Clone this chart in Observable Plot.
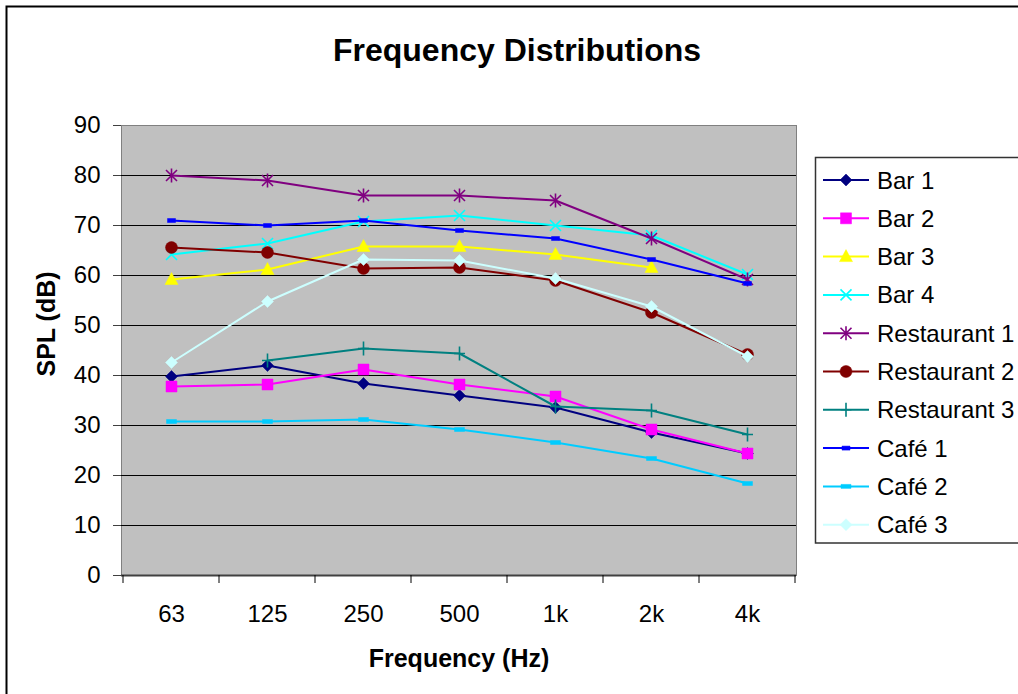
<!DOCTYPE html>
<html>
<head>
<meta charset="utf-8">
<script src="https://cdn.jsdelivr.net/npm/d3@7"></script>
<script src="https://cdn.jsdelivr.net/npm/@observablehq/plot@0.6"></script>
<style>
  html, body { margin: 0; padding: 0; background: #fff; overflow: hidden; }
  #chart { position: relative; width: 1018px; height: 694px; }
  svg { font-family: "Liberation Sans", Arial, sans-serif; }
</style>
</head>
<body>
<div id="chart"></div>
<script>
// ---- data ----
const frequencies = ["63", "125", "250", "500", "1k", "2k", "4k"];
const yTicks = [0, 10, 20, 30, 40, 50, 60, 70, 80, 90];
const seriesNames = ["Bar 1", "Bar 2", "Bar 3", "Bar 4", "Restaurant 1", "Restaurant 2", "Restaurant 3", "Café 1", "Café 2", "Café 3"];
const bar1 = [39.8, 42.0, 38.4, 36.0, 33.6, 28.6, 24.4];
const bar2 = [37.8, 38.2, 41.2, 38.2, 35.8, 29.2, 24.4];
const bar3 = [59.2, 61.2, 65.8, 65.8, 64.2, 61.6, null];
const bar4 = [64.2, 66.4, 70.8, 72.0, 70.0, 68.0, 60.2];
const restaurant1 = [80.0, 79.0, 76.0, 76.0, 75.0, 67.4, 59.2];
const restaurant2 = [65.6, 64.6, 61.4, 61.6, 59.0, 52.6, 44.2];
const restaurant3 = [null, 43.0, 45.4, 44.4, 33.8, 33.0, 28.2];
const cafe1 = [71.0, 70.0, 71.0, 69.0, 67.4, 63.2, 58.4];
const cafe2 = [30.8, 30.8, 31.2, 29.2, 26.6, 23.4, 18.4];
const cafe3 = [42.6, 54.8, 63.2, 63.0, 59.4, 53.8, 43.8];
const seriesValues = [bar1, bar2, bar3, bar4, restaurant1, restaurant2, restaurant3, cafe1, cafe2, cafe3];

// ---- styles ----
const colors = ["#000080", "#FF00FF", "#FFFF00", "#00FFFF", "#800080", "#800000", "#008080", "#0000FF", "#00CCFF", "#CCFFFF"];
function poly(pts) {
  return { draw(ctx) { ctx.moveTo(pts[0][0], pts[0][1]); for (let i = 1; i < pts.length; i++) ctx.lineTo(pts[i][0], pts[i][1]); ctx.closePath(); } };
}
const symDiamond = poly([[0, -6], [6, 0], [0, 6], [-6, 0]]);
const symSquare = poly([[-5.5, -5.5], [5.5, -5.5], [5.5, 5.5], [-5.5, 5.5]]);
const symTriangle = poly([[0, -7], [6.5, 5], [-6.5, 5]]);
const symCircle = { draw(ctx) { ctx.moveTo(6, 0); ctx.arc(0, 0, 6, 0, 2 * Math.PI); } };
const symX = { draw(ctx) { ctx.moveTo(-5.5, -5.5); ctx.lineTo(5.5, 5.5); ctx.moveTo(5.5, -5.5); ctx.lineTo(-5.5, 5.5); } };
const symAsterisk = { draw(ctx) { ctx.moveTo(-5.5, -5.5); ctx.lineTo(5.5, 5.5); ctx.moveTo(5.5, -5.5); ctx.lineTo(-5.5, 5.5); ctx.moveTo(0, -7); ctx.lineTo(0, 7); } };
const symPlus = { draw(ctx) { ctx.moveTo(0, -7); ctx.lineTo(0, 7); ctx.moveTo(-5.5, 0); ctx.lineTo(5.5, 0); } };
const symDash1 = poly([[-4, -2], [4, -2], [4, 2], [-4, 2]]);
const symDash2 = poly([[-5, -2], [5, -2], [5, 2], [-5, 2]]);
const symbols = [symDiamond, symSquare, symTriangle, symX, symAsterisk, symCircle, symPlus, symDash1, symDash2, symDiamond];
const filled = [true, true, true, false, false, true, false, true, true, true];

// ---- table ----
const rows = [];
seriesNames.forEach((s, si) => {
  seriesValues[si].forEach((v, i) => {
    if (v != null) rows.push({ series: s, idx: si, freq: frequencies[i], spl: v });
  });
});

const marks = [
  Plot.frame({ fill: "#C0C0C0", stroke: "#808080" }),
  Plot.gridY(yTicks.filter(d => d > 0 && d < 90), { stroke: "#000", strokeOpacity: 1, strokeWidth: 1 }),
  Plot.ruleY([0], { stroke: "#404040", strokeWidth: 2 }),
  Plot.axisY({ ticks: yTicks, tickSize: 8, tickPadding: 13, fontSize: 24, line: true, stroke: "#404040", fill: "#000", label: null }),
  Plot.axisX({ tickSize: 0, tickPadding: 29, fontSize: 24, label: null, fill: "#000" })
];
seriesNames.forEach((s, si) => {
  const d = rows.filter(r => r.idx === si);
  marks.push(Plot.line(d, { x: "freq", y: "spl", stroke: colors[si], strokeWidth: 2 }));
  marks.push(Plot.dot(d, {
    x: "freq", y: "spl", symbol: symbols[si], r: 5,
    fill: filled[si] ? colors[si] : "none",
    stroke: colors[si], strokeWidth: filled[si] ? 0.5 : 1.6
  }));
});

const svgNode = Plot.plot({
  width: 1018,
  height: 694,
  marginTop: 125,
  marginBottom: 119,
  marginLeft: 121,
  marginRight: 222,
  style: { fontFamily: "Liberation Sans, Arial, sans-serif", background: "transparent" },
  x: { type: "point", domain: frequencies, padding: 0.5 },
  y: { domain: [0, 90] },
  marks
});
document.getElementById("chart").appendChild(svgNode);

// ---- decorations: frame border, x ticks at band boundaries, titles, legend ----
const svg = d3.select(svgNode);
svg.insert("rect", ":first-child")
  .attr("x", 6.5).attr("y", 6.5).attr("width", 1030).attr("height", 700)
  .attr("fill", "#fff").attr("stroke", "#000").attr("stroke-width", 2);

const xs = svgNode.scale("x");
const step = xs.apply(frequencies[1]) - xs.apply(frequencies[0]);
const ys = svgNode.scale("y");
const y0 = ys.apply(0);
d3.range(frequencies.length + 1).forEach(i => {
  const px = xs.apply(frequencies[0]) + (i - 0.5) * step;
  svg.append("line").attr("x1", px).attr("x2", px).attr("y1", y0).attr("y2", y0 + 8)
    .attr("stroke", "#000").attr("stroke-width", 1);
});

svg.append("text").attr("x", 517).attr("y", 61).attr("text-anchor", "middle")
  .attr("font-size", 32).attr("font-weight", "bold").attr("fill", "#000").text("Frequency Distributions");
svg.append("text").attr("x", 459).attr("y", 667).attr("text-anchor", "middle")
  .attr("font-size", 25).attr("font-weight", "bold").attr("fill", "#000").text("Frequency (Hz)");
svg.append("text").attr("transform", "translate(55,324) rotate(-90)").attr("text-anchor", "middle")
  .attr("font-size", 25).attr("font-weight", "bold").attr("fill", "#000").text("SPL (dB)");

const lg = svg.append("g");
lg.append("rect").attr("x", 815.5).attr("y", 157.5).attr("width", 210).attr("height", 385.5)
  .attr("fill", "#fff").attr("stroke", "#333").attr("stroke-width", 1.5);
seriesNames.forEach((s, si) => {
  const ly = 180 + si * 38.3;
  lg.append("line").attr("x1", 823).attr("x2", 869).attr("y1", ly).attr("y2", ly)
    .attr("stroke", colors[si]).attr("stroke-width", 2);
  lg.append("path").attr("transform", `translate(846,${ly})`)
    .attr("d", d3.symbol(symbols[si])())
    .attr("fill", filled[si] ? colors[si] : "none")
    .attr("stroke", colors[si]).attr("stroke-width", filled[si] ? 0.5 : 1.6);
  lg.append("text").attr("x", 877).attr("y", ly + 8.5).attr("text-anchor", "start")
    .attr("font-size", 24).attr("fill", "#000").text(s);
});
</script>
</body>
</html>
